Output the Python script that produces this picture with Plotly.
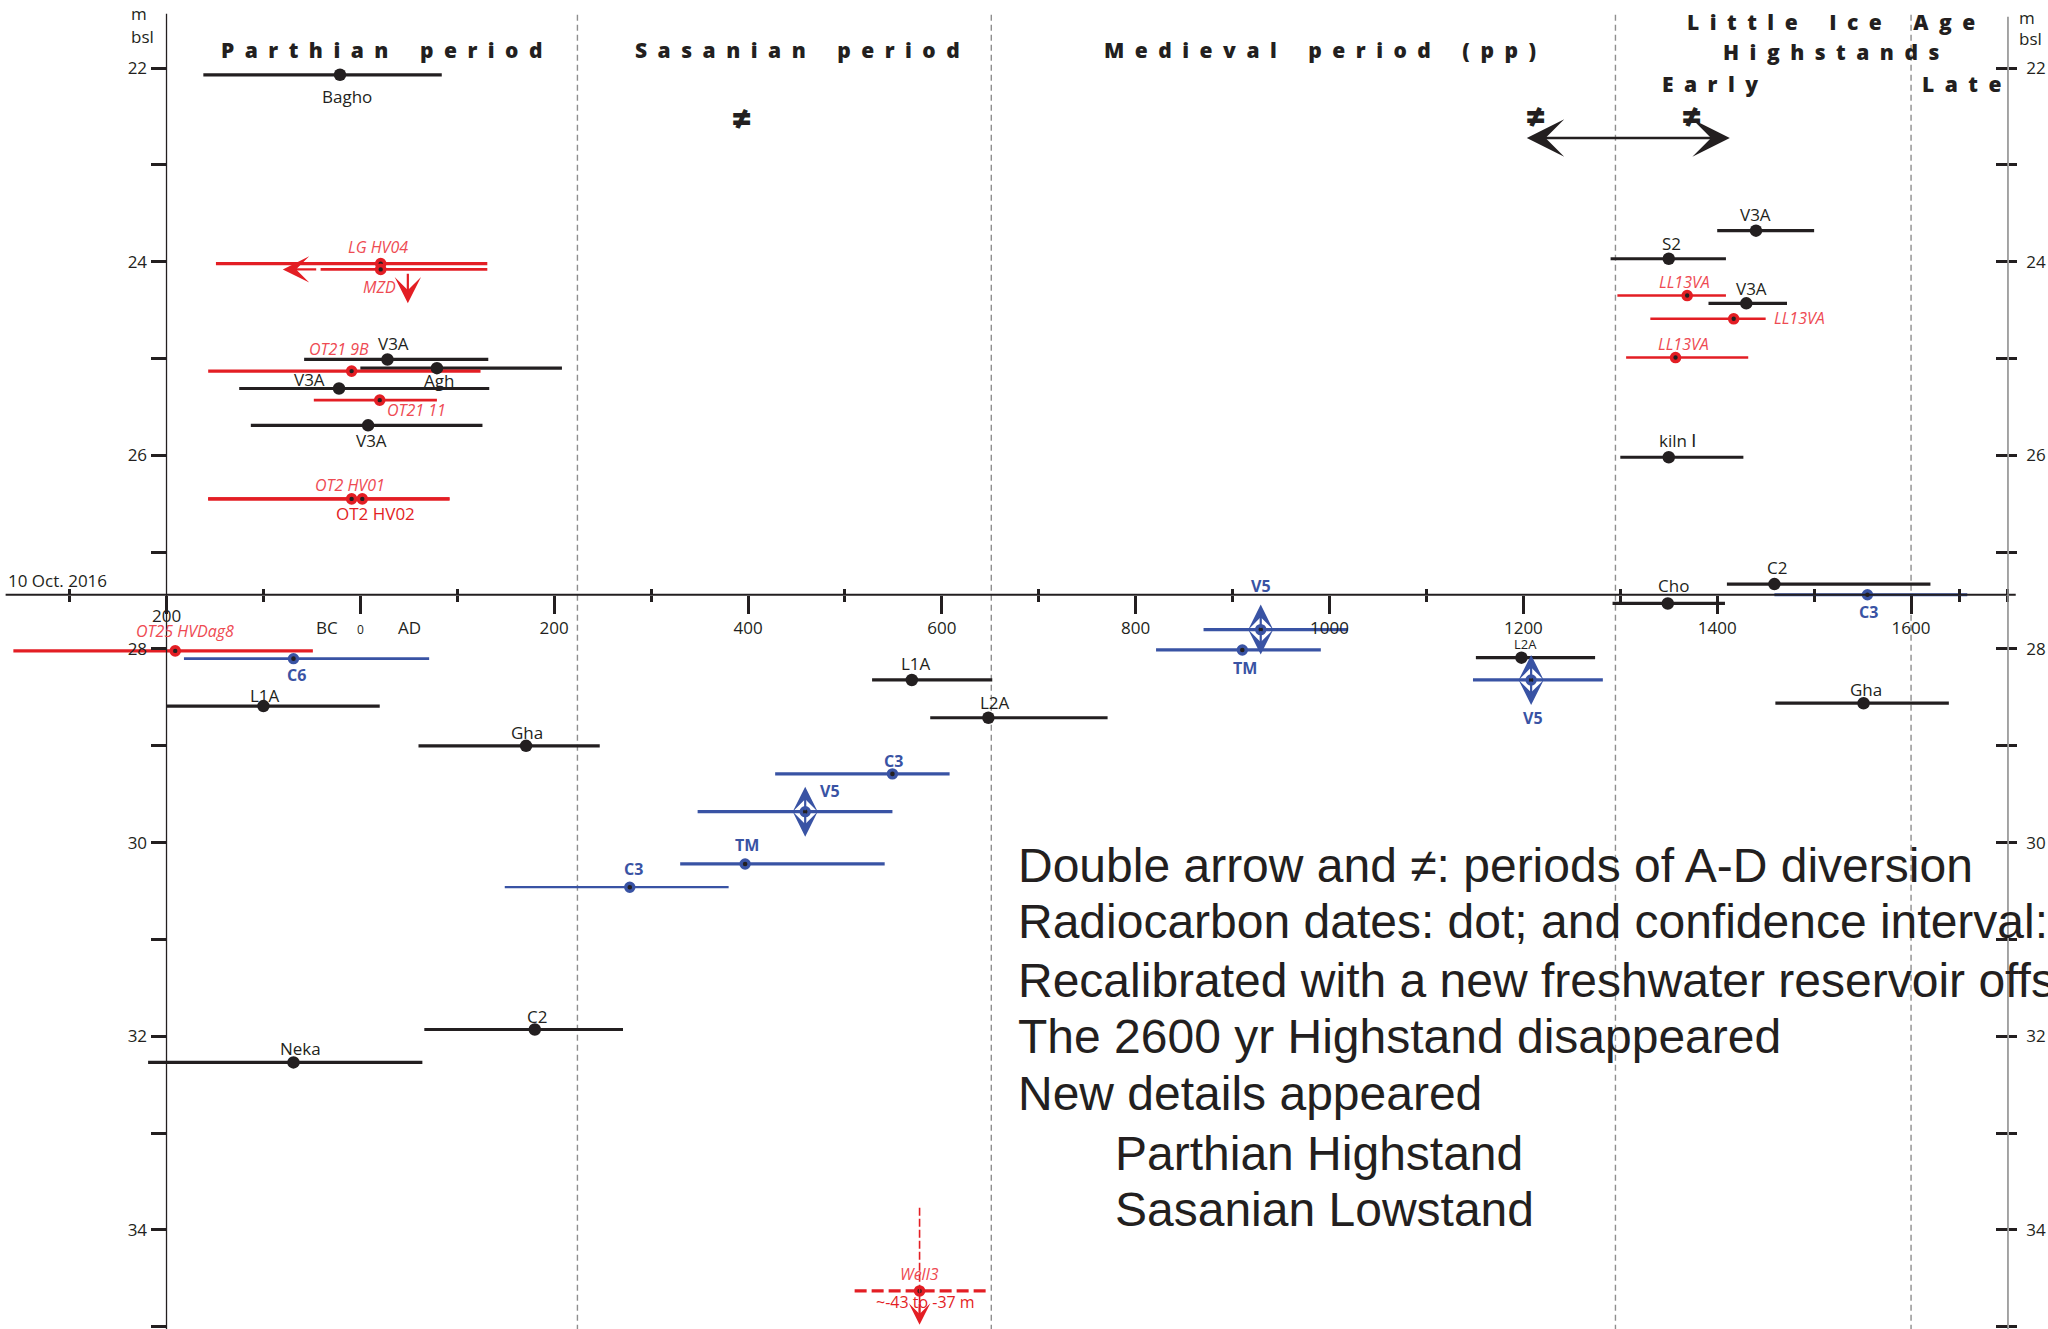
import plotly.graph_objects as go

W, H = 2048, 1329

# ============================ DATA ============================
sea_level_2016 = 27.44          # m bsl – level of the time axis ("10 Oct. 2016")

# black: archaeological / terrestrial dates  (calendar year, interval, depth m bsl)
blk_labels = ["Bagho", "V3A", "Agh", "V3A", "V3A", "L1A", "Gha", "Neka", "C2", "L1A",
              "L2A", "L2A", "Cho", "C2", "Gha", "kiln \u2160", "V3A", "S2", "V3A"]
blk_year = [-21, 28, 79, -22, 8, -100, 171, -69, 180, 569, 648, 1198, 1349, 1459, 1551, 1350, 1440, 1350, 1430]
blk_lo = [-162, -58, 0, -125, -113, -200, 60, -219, 66, 528, 588, 1151, 1292, 1410, 1460, 1300, 1400, 1290, 1391]
blk_hi = [84, 132, 208, 133, 126, 20, 247, 64, 271, 652, 771, 1274, 1408, 1620, 1639, 1427, 1500, 1409, 1472]
blk_depth = [22.07, 25.01, 25.10, 25.31, 25.69, 28.59, 29.00, 32.27, 31.93, 28.32, 28.71, 28.09,
             27.53, 27.33, 28.56, 26.02, 23.68, 23.97, 24.43]

# red: recalibrated radiocarbon dates
red_labels = ["LG HV04", "MZD", "OT21 9B", "OT21 11", "OT2 HV01", "OT2 HV02", "OT25 HVDag8",
              "LL13VA", "LL13VA", "LL13VA", "Well3"]
red_year = [21, 21, -9, 20, -9, 2, -191, 1369, 1417, 1357, 577]
red_lo = [-149, -41, -157, -48, -157, -157, -358, 1297, 1331, 1306, 510]
red_hi = [131, 131, 124, 79, 92, 92, -49, 1409, 1450, 1432, 648]
red_depth = [24.02, 24.08, 25.13, 25.43, 26.45, 26.45, 28.02, 24.35, 24.59, 24.99, 34.63]
mzd_older_than = -80            # MZD open-ended age (arrow)
mzd_deeper_than = 24.43         # MZD open-ended depth (arrow)
well3_note = "~-43 to -37 m"

# blue dates
blu_labels = ["C6", "C3", "V5", "TM", "C3", "V5", "TM", "V5", "C3"]
blu_year = [-69, 549, 459, 397, 278, 929, 910, 1208, 1555]
blu_lo = [-182, 428, 348, 330, 149, 870, 821, 1148, 1459]
blu_hi = [71, 608, 549, 541, 380, 1019, 991, 1282, 1658]
blu_depth = [28.10, 29.29, 29.68, 30.22, 30.46, 27.80, 28.01, 28.32, 27.44]
blu_updown = [False, False, True, False, False, True, False, True, False]

# periods
period_bounds = [224, 651, 1295, 1600]
period_titles = ["Parthian period", "Sasanian period", "Medieval period (pp)",
                 "Little Ice Age", "Highstands", "Early", "Late"]
diversion_start, diversion_end = 1202, 1413

# axes ticks
depth_major = [22, 24, 26, 28, 30, 32, 34]
depth_minor = [23, 25, 27, 29, 31, 33, 35]
year_major = [-200, 0, 200, 400, 600, 800, 1000, 1200, 1400, 1600]
year_major_text = ["", "<span style='font-size:12px'>0</span>", "200", "400", "600", "800",
                   "1000", "1200", "1400", "1600"]
year_minor = [-300, -100, 100, 300, 500, 700, 900, 1100, 1300, 1500, 1650, 1700]

notes = ["Double arrow and \u2260: periods of A-D diversion",
         "Radiocarbon dates: dot; and confidence interval:",
         "Recalibrated with a new freshwater reservoir offset",
         "The 2600 yr Highstand disappeared",
         "New details appeared",
         "Parthian Highstand",
         "Sasanian Lowstand"]

# ============================ STYLE ============================
BLACK = "#231f20"
RED = "#e31e24"
RED_TXT = "#ee4a52"
BLUE = "#3953a4"
GRAY = "#8f8f8f"
FONT = "Open Sans, DejaVu Sans, sans-serif"
ARIAL = "Liberation Sans, Arial, sans-serif"

X0, X1 = -371.8, 1741.3
Y_TOP, Y_BOT = 21.2977, 35.0228


def xfrac(v):
    return (v - X0) / (X1 - X0)


def yfrac(d):
    return (Y_BOT - d) / (Y_BOT - Y_TOP)


blk_w = [3.2] * len(blk_year)
red_w = [3.2, 2.6, 3.2, 2.6, 3.2, 3.2, 3.2, 2.6, 2.6, 2.6, 3.2]
blu_w = [2.6, 3.2, 3.2, 3.2, 2.2, 3.2, 3.2, 3.2, 3.2]

# label offsets (px, right / down)
blk_off = [(7, 22), (6, -16), (2, 12), (-30, -9), (3, 15), (2, -11), (1, -13), (7, -14), (2, -13),
           (4, -16), (7, -15), (4, -14), (6, -18), (3, -17), (2, -14), (9, -17), (0, -16), (3, -15), (5, -15)]
red_off = [(-3, -17), (-1, 18), (-13, -22), (37, 10), (-2, -14), (13, 15), (10, -20),
           (-3, -14), (66, -1), (8, -14), (0, -17)]
blu_off = [(3, 16), (1, -13), (25, -21), (2, -19), (4, -18), (0, -44), (3, 18), (2, 38), (1, 17)]

fig = go.Figure()
annotations = []
shapes = []


def add_ranges(lo, hi, dep, color, widths, dash=None):
    for a, b, d, w in zip(lo, hi, dep, widths):
        fig.add_trace(go.Scatter(x=[a, b], y=[d, d], mode="lines",
                                 line=dict(color=color, width=w, dash=dash),
                                 hoverinfo="skip", showlegend=False))


# range lines
add_ranges(blk_lo, blk_hi, blk_depth, BLACK, blk_w)
add_ranges(red_lo[:-1], red_hi[:-1], red_depth[:-1], RED, red_w[:-1])
add_ranges(red_lo[-1:], red_hi[-1:], red_depth[-1:], RED, red_w[-1:], dash="12px,5px")
add_ranges(blu_lo, blu_hi, blu_depth, BLUE, blu_w)

# open-ended MZD arrows and Well3 vertical marker
annotations.append(dict(x=mzd_older_than, y=red_depth[1], ax=red_lo[1] - 3, ay=red_depth[1],
                        xref="x", yref="y", axref="x", ayref="y", text="", showarrow=True,
                        arrowhead=3, arrowsize=2.0, arrowwidth=2.2, arrowcolor=RED))
annotations.append(dict(x=49, y=mzd_deeper_than, ax=49, ay=red_depth[1] + 0.03,
                        xref="x", yref="y", axref="x", ayref="y", text="", showarrow=True,
                        arrowhead=3, arrowsize=2.0, arrowwidth=2.2, arrowcolor=RED))
shapes.append(dict(type="line", xref="x", yref="y", x0=red_year[-1], x1=red_year[-1],
                   y0=33.77, y1=34.9, line=dict(color=RED, width=1.6, dash="8px,3px")))
annotations.append(dict(x=red_year[-1], y=34.98, ax=red_year[-1], ay=34.75,
                        xref="x", yref="y", axref="x", ayref="y", text="", showarrow=True,
                        arrowhead=3, arrowsize=1.8, arrowwidth=2, arrowcolor=RED))

# V5 up/down arrows
for yr, d, flag in zip(blu_year, blu_depth, blu_updown):
    if flag:
        for s in (1, -1):
            annotations.append(dict(x=yr, y=d, xref="x", yref="y", ax=0, ay=25 * s, yshift=25 * s,
                                    text="", showarrow=True, arrowhead=3, arrowsize=1.9,
                                    arrowwidth=2.2, arrowcolor=BLUE))

# dots
fig.add_trace(go.Scatter(x=blk_year, y=blk_depth, mode="markers",
                         marker=dict(size=12.5, color=BLACK), hoverinfo="skip", showlegend=False))
fig.add_trace(go.Scatter(x=red_year, y=red_depth, mode="markers",
                         marker=dict(size=8, color=BLACK, line=dict(color=RED, width=3.6)),
                         hoverinfo="skip", showlegend=False))
fig.add_trace(go.Scatter(x=blu_year, y=blu_depth, mode="markers",
                         marker=dict(size=8, color=BLACK, line=dict(color=BLUE, width=3.4)),
                         hoverinfo="skip", showlegend=False))

# dummy traces for overlay axes
fig.add_trace(go.Scatter(x=[None], y=[None], xaxis="x2", yaxis="y", showlegend=False))
fig.add_trace(go.Scatter(x=[None], y=[None], xaxis="x", yaxis="y2", showlegend=False))
fig.add_trace(go.Scatter(x=[None], y=[None], xaxis="x", yaxis="y3", showlegend=False))


def lab(x, y, text, off, size, color, family=FONT):
    annotations.append(dict(x=x, y=y, xref="x", yref="y", text=text, showarrow=False,
                            xshift=off[0], yshift=-off[1], xanchor="center", yanchor="middle",
                            font=dict(size=size, color=color, family=family)))


for i, (t, x, d) in enumerate(zip(blk_labels, blk_year, blk_depth)):
    lab(x, d, t, blk_off[i], 13 if (t == "L2A" and x > 1000) else 17, BLACK)
for i, (t, x, d) in enumerate(zip(red_labels, red_year, red_depth)):
    if t == "OT2 HV02":
        lab(x, d, t, red_off[i], 17, RED)
    else:
        lab(x, d, "<i>" + t + "</i>", red_off[i], 16, RED_TXT)
lab(red_year[-1], red_depth[-1], well3_note, (6, 11), 16, RED)
for i, (t, x, d) in enumerate(zip(blu_labels, blu_year, blu_depth)):
    lab(x, d, "<b>" + t + "</b>", blu_off[i], 16, BLUE)


def ptext(xp, yp, text, size, color=BLACK, anchor="center", family=FONT, weight=None):
    f = dict(size=size, color=color, family=family)
    if weight:
        f["weight"] = weight
    annotations.append(dict(x=xp / W, y=1 - yp / H, xref="paper", yref="paper", text=text,
                            showarrow=False, xanchor=anchor, yanchor="middle", font=f))


def spaced(s):
    return "\u2002\u2002\u2002".join("\u2002".join(w) for w in s.split(" "))


head_pos = [(381, 50), (797, 50), (1320, 50), (1831, 22), (1831, 52), (1710, 84), (1961, 84)]
for t, (xp, yp) in zip(period_titles, head_pos):
    ptext(xp, yp, spaced(t), 21, weight=800)

for xp, yp in [(741, 118), (1535, 116), (1691, 116)]:
    ptext(xp, yp, "\u2260", 34, weight=800)

annotations.append(dict(x=diversion_end, y=1 - 138 / H, ax=diversion_start, ay=0,
                        xref="x", yref="paper", axref="x", ayref="pixel", text="", showarrow=True,
                        arrowhead=3, arrowsize=2.6, arrowwidth=2.4, arrowcolor=BLACK,
                        arrowside="end+start"))

# axis annotations
ptext(6, 581, "10 Oct. 2016", 17, anchor="left")
ptext(129, 14, "m", 17, anchor="left")
ptext(129, 36, "bsl", 17, anchor="left")
ptext(2017, 17, "m", 17, anchor="left")
ptext(2017, 38, "bsl", 17, anchor="left")
annotations.append(dict(x=year_major[0], y=1 - 615 / H, xref="x", yref="paper", text="200",
                        showarrow=False, font=dict(size=17, color=BLACK, family=FONT)))
ptext(327, 627, "BC", 17)
ptext(409, 627, "AD", 17)

note_y = [865, 921, 980, 1036, 1093, 1153, 1209]
note_x = [1016, 1016, 1016, 1016, 1016, 1113, 1113]
for t, xp, yp in zip(notes, note_x, note_y):
    ptext(xp, yp, t, 48, anchor="left", family=ARIAL)

# axis lines and period dividers
shapes.append(dict(type="line", xref="x", yref="y", x0=-366, x1=1708, y0=sea_level_2016,
                   y1=sea_level_2016, line=dict(color=BLACK, width=2)))
shapes.append(dict(type="line", xref="x", yref="y", x0=-200, x1=-200, y0=21.44, y1=Y_BOT,
                   line=dict(color=BLACK, width=1.3)))
shapes.append(dict(type="line", xref="x", yref="y", x0=1700, x1=1700, y0=21.47, y1=Y_BOT,
                   line=dict(color=GRAY, width=1.6)))
for b in period_bounds:
    shapes.append(dict(type="line", xref="x", yref="y", x0=b, x1=b, y0=21.45, y1=Y_BOT,
                       line=dict(color=GRAY, width=1.4, dash="6px,4px"), layer="below"))

tickfont = dict(family=FONT, size=17, color=BLACK)
pos_x = yfrac(sea_level_2016)
fig.update_layout(
    width=W, height=H, margin=dict(l=0, r=0, t=0, b=0),
    paper_bgcolor="white", plot_bgcolor="white", showlegend=False,
    xaxis=dict(domain=[0, 1], range=[X0, X1], anchor="free", position=pos_x,
               showline=False, showgrid=False, zeroline=False,
               tickmode="array", tickvals=year_major, ticktext=year_major_text,
               ticks="outside", ticklen=18, tickwidth=3, tickcolor=BLACK, tickfont=tickfont,
               minor=dict(tickmode="array", tickvals=year_minor, ticks="outside", ticklen=6,
                          tickwidth=2.5, tickcolor=BLACK, showgrid=False)),
    xaxis2=dict(domain=[0, 1], range=[X0, X1], overlaying="x", anchor="free", position=pos_x,
                showline=False, showgrid=False, zeroline=False, tickmode="array",
                tickvals=year_minor, ticks="inside", ticklen=6, tickwidth=2.5, tickcolor=BLACK,
                showticklabels=False),
    yaxis=dict(domain=[0, 1], range=[Y_BOT, Y_TOP], anchor="free", position=xfrac(-200),
               side="left", showline=False, showgrid=False, zeroline=False,
               tickmode="array", tickvals=depth_major, ticktext=[str(v) for v in depth_major],
               ticks="outside", ticklen=16, tickwidth=3, tickcolor=BLACK, tickfont=tickfont,
               minor=dict(tickmode="array", tickvals=depth_minor, ticks="outside", ticklen=16,
                          tickwidth=3, tickcolor=BLACK, showgrid=False)),
    yaxis2=dict(domain=[0, 1], range=[Y_BOT, Y_TOP], overlaying="y", anchor="free",
                position=xfrac(1700), side="right", showline=False, showgrid=False,
                zeroline=False, tickmode="array", tickvals=depth_major,
                ticktext=[str(v) for v in depth_major], ticks="outside", ticklen=8,
                tickwidth=3, tickcolor=BLACK, tickfont=tickfont, ticklabelstandoff=6,
                minor=dict(tickmode="array", tickvals=depth_minor, ticks="outside", ticklen=8,
                           tickwidth=3, tickcolor=BLACK, showgrid=False)),
    yaxis3=dict(domain=[0, 1], range=[Y_BOT, Y_TOP], overlaying="y", anchor="free",
                position=xfrac(1700), side="right", showline=False, showgrid=False,
                zeroline=False, tickmode="array", tickvals=depth_major + depth_minor,
                ticks="inside", ticklen=12, tickwidth=3, tickcolor=BLACK,
                showticklabels=False),
    annotations=annotations, shapes=shapes,
)

fig.write_html("out.html")
